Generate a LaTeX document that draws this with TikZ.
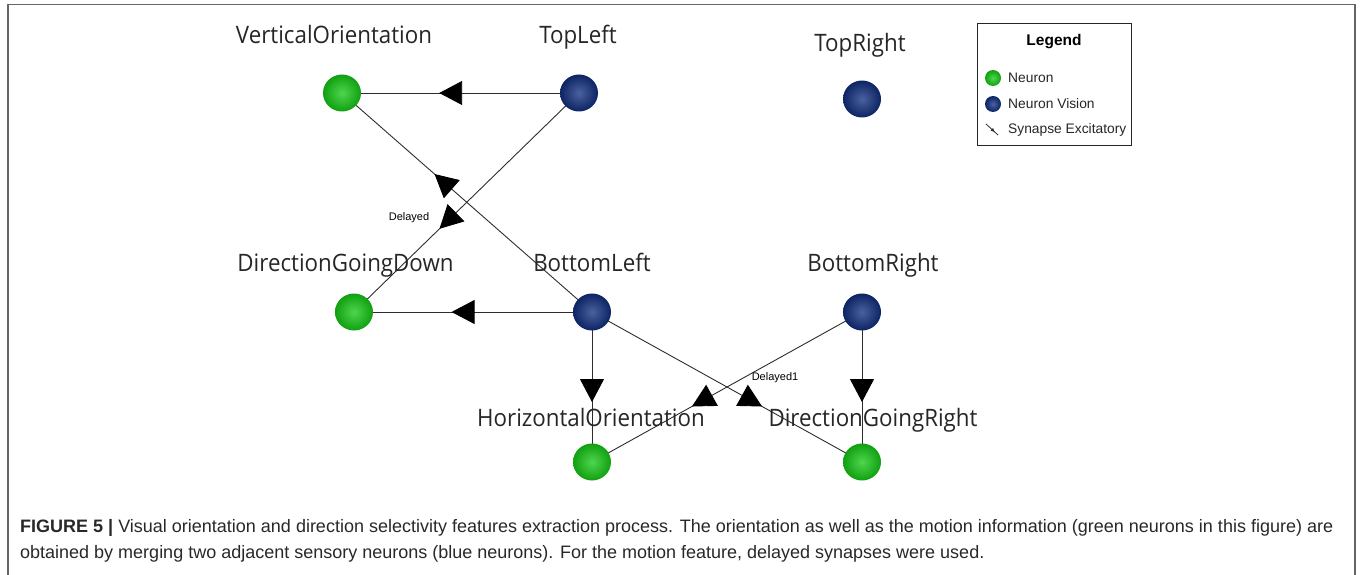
\documentclass[tikz,border=0pt]{standalone}
\usepackage{fontspec}
\setmainfont{Liberation Sans}
\newfontfamily\lblfont[FakeStretch=0.93]{Open Sans}
\usetikzlibrary{arrows.meta,decorations.markings,backgrounds,shapes.geometric}
\definecolor{ngreen}{RGB}{20,200,20}
\definecolor{nblue}{RGB}{15,45,125}
\definecolor{edgec}{RGB}{45,45,45}
\definecolor{capc}{RGB}{40,40,40}
\tikzset{
  neuron/.style={ellipse, minimum width=38pt, minimum height=37pt, inner sep=0pt, shading=radial,
    inner color=ngreen!75!white, outer color=ngreen!80!black},
  vision/.style={ellipse, minimum width=38pt, minimum height=37pt, inner sep=0pt, shading=radial,
    inner color=nblue!75!white, outer color=nblue!80!black},
  lbl/.style={font=\lblfont\fontsize{24}{26}\selectfont, text=black!85, inner sep=0pt, anchor=base},
  syn/.style={draw=edgec, line width=0.9pt, postaction={decorate},
    decoration={markings, mark=at position #1 with {\arrow{Triangle[length=23pt,width=24pt,color=black]}}}},
  small/.style={font=\fontsize{11}{13}\selectfont, inner sep=0pt},
  legtext/.style={font=\fontsize{13.8}{15}\selectfont, anchor=west, inner sep=0pt, text=black!85},
}
\begin{document}
\begin{tikzpicture}[x=1pt,y=-1pt]
\useasboundingbox (0,0) rectangle (1360,575);
% frame
\draw[draw=black!60, line width=1.3pt] (8,575) -- (8,4.5) -- (1355,4.5) -- (1355,575);
% neurons
\node[neuron] (vo) at (342,93) {};
\node[vision] (tl) at (579,93) {};
\node[vision] (tr) at (862,99) {};
\node[neuron] (dgd) at (354,312) {};
\node[vision] (bl) at (592,312) {};
\node[vision] (br) at (862,312) {};
\node[neuron] (ho) at (592,462) {};
\node[neuron] (dgr) at (862,462) {};
% edges
\begin{scope}[on background layer]
\draw[syn=0.59] (tl.center) -- (vo.center);
\draw[syn=0.63] (bl.center) -- (vo.center);
\draw[syn=0.62] (tl.center) -- (dgd.center);
\draw[syn=0.59] (bl.center) -- (dgd.center);
\draw[syn=0.6] (bl.center) -- (ho.center);
\draw[syn=0.6] (br.center) -- (dgr.center);
\draw[syn=0.63] (bl.center) -- (dgr.center);
\draw[syn=0.63] (br.center) -- (ho.center);
\end{scope}
% labels
\node[lbl] (lvo) at (334,43.5) {VerticalOrientation};
\node[lbl] (ltl) at (578,43.5) {TopLeft};
\node[lbl] (ltr) at (860,51.5) {TopRight};
\node[lbl] (ldgd) at (345.5,271) {DirectionGoingDown};
\node[lbl] (lbl) at (592,271) {BottomLeft};
\node[lbl] (lbr) at (873,271) {BottomRight};
\node[lbl] (lho) at (591,426) {HorizontalOrientation};
\node[lbl] (ldgr) at (873,426) {DirectionGoingRight};
\node[small] (d0) at (409,218) {Delayed};
\node[small] (d1) at (775,378) {Delayed1};
% legend
\node[draw=black!85, line width=1pt, minimum width=154pt, minimum height=122pt, inner sep=0pt] (leg) at (1054,85) {};
\node[font=\bfseries\fontsize{15.5}{17}\selectfont, inner sep=0pt] (legt) at (1054,42) {Legend};
\node[circle, minimum size=16pt, inner sep=0pt, shading=radial, inner color=ngreen!75!white, outer color=ngreen!80!black] (lg1) at (993,78) {};
\node[legtext] (lt1) at (1008,78) {Neuron};
\node[circle, minimum size=16pt, inner sep=0pt, shading=radial, inner color=nblue!75!white, outer color=nblue!80!black] (lg2) at (993,104) {};
\node[legtext] (lt2) at (1008,104) {Neuron Vision};
\coordinate (s1) at (986,124);
\coordinate (s2) at (998,135);
\draw[draw=edgec, line width=0.8pt, postaction={decorate},
  decoration={markings, mark=at position 0.7 with {\arrow{Triangle[length=3.5pt,width=3.5pt]}}}] (s1) -- (s2);
\node[legtext] (lt3) at (1008,130) {Synapse Excitatory};
% caption
\node[anchor=west, inner sep=0pt, text=capc, font=\fontsize{18}{26}\selectfont] (cap1) at (20,528)
  {\textbf{FIGURE 5 |} Visual orientation and direction selectivity features extraction process. The orientation as well as the motion information (green neurons in this figure) are};
\node[anchor=west, inner sep=0pt, text=capc, font=\fontsize{18}{26}\selectfont] (cap2) at (20,554)
  {obtained by merging two adjacent sensory neurons (blue neurons). For the motion feature, delayed synapses were used.};
\end{tikzpicture}
\end{document}
